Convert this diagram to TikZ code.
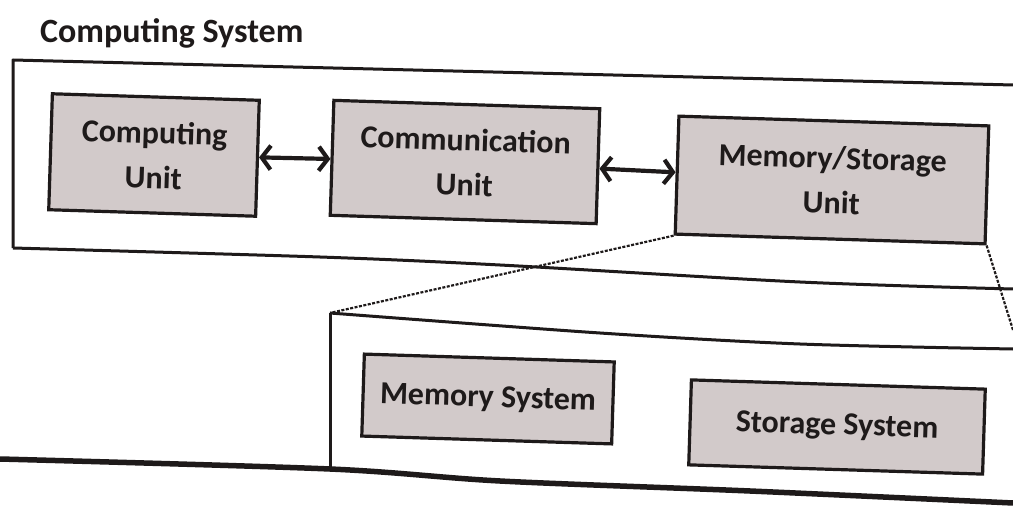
\documentclass[tikz,border=0pt]{standalone}
\usepackage{fontspec}
\setmainfont{Carlito}
\usetikzlibrary{arrows.meta}
\definecolor{boxfill}{HTML}{D2CACA}
\definecolor{ink}{HTML}{1E1A1A}
\tikzset{
  unitbox/.style={draw=ink, line width=3.2pt, fill=boxfill, rotate=-1.8,
    align=center, inner sep=0pt, text=ink,
    font=\fontsize{32}{45}\selectfont\bfseries},
  frame/.style={draw=ink, line width=3pt, line join=round},
  biarrow/.style={draw=ink, line width=4.2pt,
    {Straight Barb[length=9pt,width=24pt]}-{Straight Barb[length=9pt,width=24pt]}},
  zoomline/.style={draw=ink, line width=2.2pt, dash pattern=on 3pt off 1.5pt}
}
\begin{document}
\begin{tikzpicture}[x=1pt,y=-1pt]
\useasboundingbox (0,0) rectangle (1013,508);
% title
\node[anchor=base west, inner sep=0pt, text=ink, font=\fontsize{34}{40}\selectfont\bfseries] (cs) at (40,43) {Computing System};
% outer frame
\draw[frame] (1013,85) -- (13,60) -- (13,248);
\draw[frame] plot[smooth] coordinates {(13,248) (320,257) (500,265) (800,282) (1013,289)};
% units
\node[unitbox, minimum width=207pt, minimum height=116pt] (cu) at (154,155) {Computing\\Unit};
\node[unitbox, minimum width=266pt, minimum height=115pt] (comm) at (465,162) {Communication\\Unit};
\node[unitbox, minimum width=310pt, minimum height=118pt] (msu) at (832,180) {Memory/Storage\\Unit};
\draw[biarrow] (cu) -- (comm);
\draw[biarrow] (comm) -- (msu);
% zoomed inner frame
\coordinate (inTL) at (330,313);
\coordinate (inBL) at (330,469);
\coordinate (zr) at (1013,330);
\draw[frame] plot[smooth] coordinates {(inTL) (600,333) (800,344) (1013,349)};
\draw[frame] (inTL) -- (inBL);
\draw[draw=ink, line width=5.5pt] plot[smooth] coordinates {(0,459) (inBL) (500,481) (750,491) (1013,503)};
\draw[zoomline] (msu.south west) -- (inTL);
\draw[zoomline] (msu.south east) -- (zr);
% sub systems
\node[unitbox, minimum width=250pt, minimum height=82pt] (mem) at (488,399) {Memory System};
\node[unitbox, minimum width=294pt, minimum height=85pt] (sto) at (837,427) {Storage System};
\end{tikzpicture}
\end{document}
